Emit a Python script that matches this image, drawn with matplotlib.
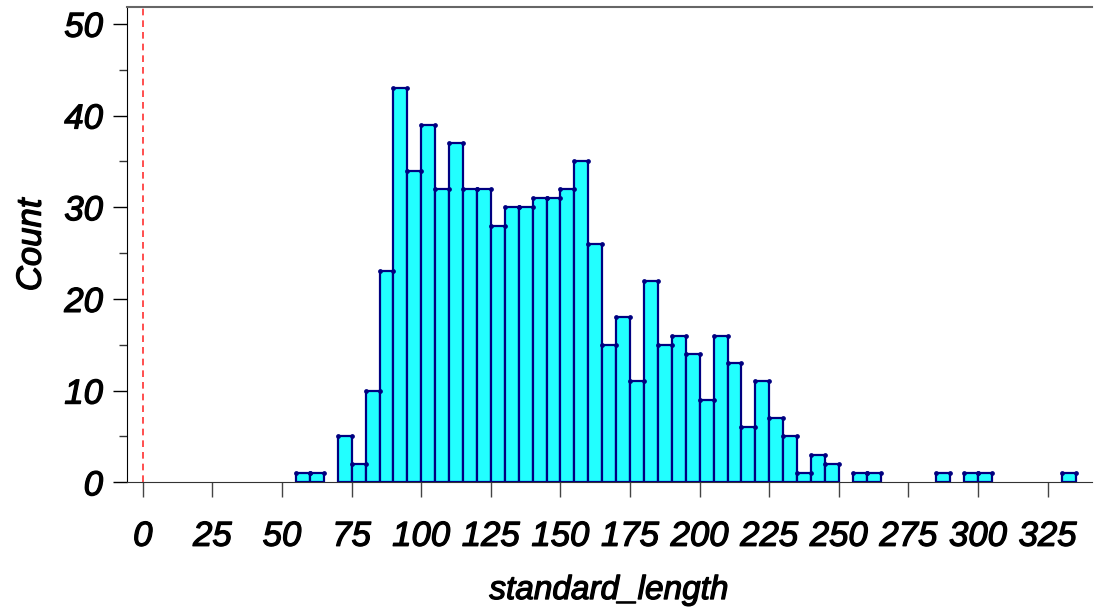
import numpy as np
import matplotlib
matplotlib.use('Agg')
import matplotlib.pyplot as plt
import matplotlib.patheffects as pe

bin_width = 5
bin_start = [55, 60, 65, 70, 75, 80, 85, 90, 95, 100, 105, 110, 115, 120, 125,
             130, 135, 140, 145, 150, 155, 160, 165, 170, 175, 180, 185, 190,
             195, 200, 205, 210, 215, 220, 225, 230, 235, 240, 245, 250, 255,
             260, 265, 270, 275, 280, 285, 290, 295, 300, 305, 310, 315, 320,
             325, 330]
counts = [1, 1, 0, 5, 2, 10, 23, 43, 34, 39, 32, 37, 32, 32, 28,
          30, 30, 31, 31, 32, 35, 26, 15, 18, 11, 22, 15, 16,
          14, 9, 16, 13, 6, 11, 7, 5, 1, 3, 2, 0, 1,
          1, 0, 0, 0, 0, 1, 0, 1, 1, 0, 0, 0, 0,
          0, 1]
x_ticks = [0, 25, 50, 75, 100, 125, 150, 175, 200, 225, 250, 275, 300, 325]
y_ticks = [0, 10, 20, 30, 40, 50]

plt.rcParams['font.family'] = ['Liberation Sans', 'DejaVu Sans']

W, H = 1096, 616
fig = plt.figure(figsize=(W / 100, H / 100), dpi=100)
ax = fig.add_axes([126.7 / W, (H - 482.3) / H, (1092 - 126.7) / W, (482.3 - 7.3) / H])

left = np.array(bin_start, dtype=float)
cnt = np.array(counts, dtype=float)
keep = cnt > 0
left, cnt = left[keep], cnt[keep]

ax.bar(left, cnt, width=bin_width, align='edge', color='#22ffff',
       edgecolor='#000080', linewidth=1.6, zorder=3)
# small dots on the top corners
ax.plot(left, cnt, 'o', color='#000080', ms=2.4, zorder=4)
ax.plot(left + bin_width, cnt, 'o', color='#000080', ms=2.4, zorder=4)

ax.axvline(0, color='#ff3030', lw=1.2, ls=(0, (4, 3)), zorder=2)

ax.set_xlim(-5.8, (1092 - 142.9) / 2.784)
ax.set_ylim(0, 51.8)
ax.set_xticks(x_ticks)
ax.set_yticks(y_ticks)
ax.set_yticks(np.arange(5, 50, 10), minor=True)

ax.spines['right'].set_visible(False)
ax.spines['top'].set_color('#666666')
ax.spines['top'].set_linewidth(1.5)
ax.spines['left'].set_color('black')
ax.spines['bottom'].set_color('#333333')

ax.tick_params(axis='x', direction='out', length=11, width=1, color='#444444',
               pad=16, labelsize=25)
ax.tick_params(axis='y', which='major', direction='out', length=10, width=1,
               color='black', pad=7, labelsize=25)
ax.tick_params(axis='y', which='minor', direction='out', length=6, width=1,
               color='#333333')

thick = [pe.withStroke(linewidth=0.9, foreground='black')]
for lab in ax.get_xticklabels() + ax.get_yticklabels():
    lab.set_style('italic')
    lab.set_path_effects(thick)

ax.set_xlabel('standard_length', fontsize=24, style='italic', labelpad=16,
              path_effects=thick)
ax.set_ylabel('Count', fontsize=25, style='italic', labelpad=12,
              path_effects=thick)

fig.savefig('out.png', dpi=100)
